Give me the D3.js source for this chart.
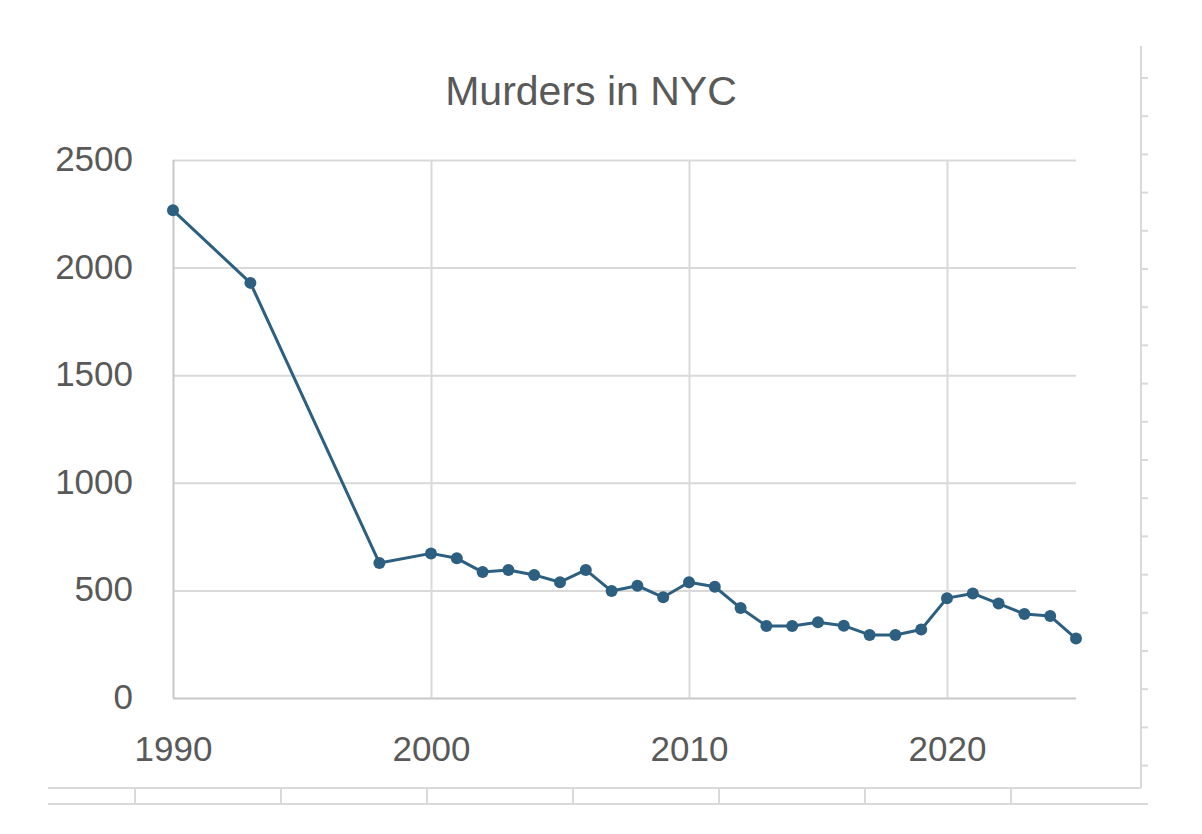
<!DOCTYPE html>
<html>
<head>
<meta charset="utf-8">
<script src="https://cdn.jsdelivr.net/npm/d3@7"></script>
<style>
  html, body { margin: 0; padding: 0; background: #fff; }
  svg { display: block; }
  text { font-family: "Liberation Sans", Arial, sans-serif; fill: #595959; }
</style>
</head>
<body>
<svg id="chart" width="1202" height="834"></svg>
<script>
// ---- data ----
const title = "Murders in NYC";
const years = [1990, 1993, 1998, 2000, 2001, 2002, 2003, 2004, 2005, 2006, 2007, 2008, 2009,
               2010, 2011, 2012, 2013, 2014, 2015, 2016, 2017, 2018, 2019, 2020, 2021, 2022,
               2023, 2024, 2025];
const murders = [2266, 1929, 627, 672, 649, 585, 595, 572, 538, 595, 497, 522, 468,
                 538, 517, 418, 335, 335, 352, 336, 293, 293, 318, 464, 486, 439,
                 390, 381, 276];
const xTicks = [1990, 2000, 2010, 2020];
const yTicks = [0, 500, 1000, 1500, 2000, 2500];

(function () {
// ---- layout ----
const svg = d3.select("#chart");
const pL = 173, pR = 1076, pT = 160, pB = 698;
const x = d3.scaleLinear().domain([1990, 2025]).range([pL, pR]);
const y = d3.scaleLinear().domain([0, 2500]).range([pB, pT]);
const grid = "#d9d9d9";
const FONT = '"Liberation Sans", Arial, sans-serif';

// spreadsheet cell borders around the chart
const sheet = svg.append("g").attr("stroke", "#d9d9d9").attr("stroke-width", 2);
sheet.append("line").attr("x1", 1141).attr("x2", 1141).attr("y1", 46).attr("y2", 788);
d3.range(78, 770, 38.2).forEach(v => {
  sheet.append("line").attr("x1", 1141).attr("x2", 1148).attr("y1", v).attr("y2", v);
});
sheet.append("line").attr("x1", 48).attr("x2", 1141).attr("y1", 788).attr("y2", 788);
sheet.append("line").attr("x1", 48).attr("x2", 1148).attr("y1", 804).attr("y2", 804);
d3.range(135, 1100, 146).forEach(v => {
  sheet.append("line").attr("x1", v).attr("x2", v).attr("y1", 788).attr("y2", 804);
});

// title
svg.append("text").attr("x", 591).attr("y", 105).attr("text-anchor", "middle")
  .attr("font-size", 41).style("font-family", FONT).attr("fill", "#595959").text(title);

// horizontal gridlines + y axis labels
const yAxis = d3.axisLeft(y).tickValues(yTicks).tickSize(-(pR - pL)).tickPadding(40)
  .tickFormat(d3.format("d"));
const gy = svg.append("g").attr("transform", `translate(${pL},0)`).call(yAxis);
gy.select(".domain").remove();
gy.selectAll(".tick line").attr("stroke-width", 2)
  .attr("stroke", d => d === 0 ? "#c8c8c8" : grid);
gy.selectAll(".tick text").attr("font-size", 35).attr("fill", "#595959")
  .attr("dy", "0.30em").style("font-family", FONT);

// vertical gridlines + x axis labels
const xAxis = d3.axisBottom(x).tickValues(xTicks).tickSize(-(pB - pT)).tickPadding(0)
  .tickFormat(d3.format("d"));
const gx = svg.append("g").attr("transform", `translate(0,${pB})`).call(xAxis);
gx.select(".domain").remove();
gx.selectAll(".tick line").attr("stroke", d => d === 1990 ? "#c8c8c8" : grid).attr("stroke-width", 2);
gx.selectAll(".tick text").attr("font-size", 35).attr("fill", "#595959")
  .attr("y", 63).attr("dy", 0).style("font-family", FONT);

// series
const data = years.map((yr, i) => ({ yr, v: murders[i] }));
const color = "#2c5f80";
svg.append("path").datum(data)
  .attr("fill", "none").attr("stroke", color).attr("stroke-width", 3)
  .attr("stroke-linejoin", "round")
  .attr("d", d3.line().x(d => x(d.yr)).y(d => y(d.v)));
svg.append("g").selectAll("circle").data(data).join("circle")
  .attr("cx", d => x(d.yr)).attr("cy", d => y(d.v)).attr("r", 6)
  .attr("fill", color);
})();
</script>
</body>
</html>
